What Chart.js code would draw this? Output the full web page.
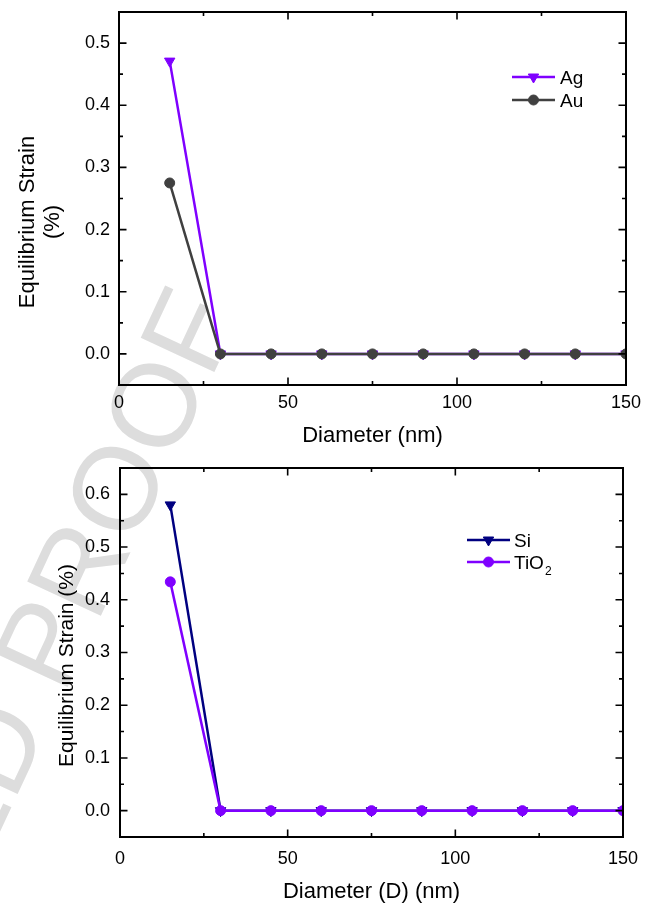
<!DOCTYPE html>
<html>
<head>
<meta charset="utf-8">
<script src="https://cdn.jsdelivr.net/npm/chart.js@4.4.1/dist/chart.umd.min.js"></script>
<style>
  html, body { margin: 0; padding: 0; background: #fff; }
  #page { position: relative; width: 654px; height: 905px; overflow: hidden; }
  #mark { position: absolute; left: 0; top: 0; }
  #topChart { position: absolute; left: 0; top: 0; }
  #bottomChart { position: absolute; left: 0; top: 452px; }
</style>
</head>
<body>
<div id="page">
  <canvas id="mark" width="654" height="905"></canvas>
  <canvas id="topChart" width="654" height="452"></canvas>
  <canvas id="bottomChart" width="654" height="453"></canvas>
</div>
<script>
// Data
const diameters = [15, 30, 45, 60, 75, 90, 105, 120, 135, 150]
const agStrain = [0.471, 0, 0, 0, 0, 0, 0, 0, 0, 0]
const auStrain = [0.275, 0, 0, 0, 0, 0, 0, 0, 0, 0]
const siStrain = [0.58, 0, 0, 0, 0, 0, 0, 0, 0, 0]
const tio2Strain = [0.434, 0, 0, 0, 0, 0, 0, 0, 0, 0]

// Axis ticks
const xTicks = [0, 50, 100, 150]
const xMinorTicks = [25, 75, 125]
const topYTicks = [0, 0.1, 0.2, 0.3, 0.4, 0.5]
const topYMinorTicks = [0.05, 0.15, 0.25, 0.35, 0.45]
const bottomYTicks = [0, 0.1, 0.2, 0.3, 0.4, 0.5, 0.6]
const bottomYMinorTicks = [0.05, 0.15, 0.25, 0.35, 0.45, 0.55]

const PURPLE = "#7f00ff"
const GRAY = "#404040"
const NAVY = "#000080"
const FONT = "Arial, 'Liberation Sans', Helvetica, sans-serif"

// Origin-style closed frame with inward ticks on all four sides
const frameTicks = {
  id: "frameTicks",
  afterDatasetsDraw(chart, args, opts) {
    const { ctx, chartArea: a } = chart
    const x = chart.scales.x
    const y = chart.scales.y
    ctx.save()
    ctx.strokeStyle = "#000"
    ctx.lineWidth = 2
    ctx.strokeRect(a.left, a.top, a.right - a.left, a.bottom - a.top)
    ctx.lineWidth = 1.6
    ctx.beginPath()
    const xt = (v, len) => {
      const px = x.getPixelForValue(v)
      ctx.moveTo(px, a.bottom); ctx.lineTo(px, a.bottom - len)
      ctx.moveTo(px, a.top); ctx.lineTo(px, a.top + len)
    }
    const yt = (v, len) => {
      const py = y.getPixelForValue(v)
      ctx.moveTo(a.left, py); ctx.lineTo(a.left + len, py)
      ctx.moveTo(a.right, py); ctx.lineTo(a.right - len, py)
    }
    opts.xMajor.forEach((v) => xt(v, 7.5))
    opts.xMinor.forEach((v) => xt(v, 4))
    opts.yMajor.forEach((v) => yt(v, 7.5))
    opts.yMinor.forEach((v) => yt(v, 4))
    ctx.stroke()
    ctx.restore()
  },
}

// Axis titles and the in-plot legend
const labels = {
  id: "labels",
  afterDraw(chart, args, opts) {
    const ctx = chart.ctx
    ctx.save()
    ctx.fillStyle = "#000"
    ctx.font = `${opts.xTitle.size}px ${FONT}`
    ctx.textBaseline = "alphabetic"
    ctx.textAlign = "center"
    ctx.fillText(opts.xTitle.text, opts.xTitle.x, opts.xTitle.y)

    ctx.save()
    ctx.font = `${opts.yTitle.size}px ${FONT}`
    ctx.translate(0, opts.yTitle.cy)
    ctx.rotate(-Math.PI / 2)
    opts.yTitle.lines.forEach((line, i) => {
      ctx.fillText(line, 0, opts.yTitle.x[i])
    })
    ctx.restore()

    const lg = opts.legend
    lg.rows.forEach((row) => {
      const ds = chart.data.datasets[row.dataset]
      ctx.strokeStyle = ds.borderColor
      ctx.fillStyle = ds.borderColor
      ctx.lineWidth = ds.borderWidth
      ctx.beginPath()
      ctx.moveTo(lg.x0, row.y)
      ctx.lineTo(lg.x1, row.y)
      ctx.stroke()
      const mx = (lg.x0 + lg.x1) / 2
      ctx.beginPath()
      if (ds.pointStyle === "triangle") {
        const r = ds.pointRadius
        ctx.moveTo(mx, row.y + r)
        ctx.lineTo(mx - r * 0.866, row.y - r / 2)
        ctx.lineTo(mx + r * 0.866, row.y - r / 2)
        ctx.closePath()
      } else {
        ctx.arc(mx, row.y, ds.pointRadius, 0, Math.PI * 2)
      }
      ctx.fill()
      ctx.lineWidth = 1
      ctx.stroke()
      ctx.fillStyle = "#000"
      ctx.textAlign = "left"
      ctx.font = `19px ${FONT}`
      ctx.fillText(row.text, lg.textX, row.y + 7)
      if (row.sub) {
        const w = ctx.measureText(row.text).width
        ctx.font = `12px ${FONT}`
        ctx.fillText(row.sub, lg.textX + w + 1, row.y + 13)
      }
    })
    ctx.restore()
  },
}

function series(label, values, color, style, order) {
  return {
    label,
    data: diameters.map((d, i) => ({ x: d, y: values[i] })),
    borderColor: color,
    backgroundColor: color,
    borderWidth: 2.5,
    pointStyle: style,
    pointRotation: style === "triangle" ? 180 : 0,
    pointRadius: style === "triangle" ? 6 : 5,
    pointBorderWidth: 1,
    tension: 0,
    order,
  }
}

function makeChart(id, datasets, cfg) {
  return new Chart(document.getElementById(id), {
    type: "line",
    data: { datasets },
    options: {
      responsive: false,
      animation: false,
      events: [],
      layout: { padding: cfg.padding },
      scales: {
        x: {
          type: "linear",
          min: 0,
          max: 150,
          grid: { display: false, drawTicks: false },
          border: { display: false },
          afterBuildTicks: (s) => { s.ticks = xTicks.map((v) => ({ value: v })) },
          afterFit: (s) => {
            s.height = cfg.xHeight
            s.paddingLeft = 0
            s.paddingRight = 0
          },
          ticks: {
            padding: cfg.xPad,
            color: "#000",
            font: { family: FONT, size: 18 },
            maxRotation: 0,
            callback: (v) => String(v),
          },
        },
        y: {
          type: "linear",
          min: cfg.yMin,
          max: cfg.yMax,
          grid: { display: false, drawTicks: false },
          border: { display: false },
          afterBuildTicks: (s) => { s.ticks = cfg.yTicks.map((v) => ({ value: v })) },
          afterFit: (s) => {
            s.width = cfg.yWidth
            s.paddingTop = 0
            s.paddingBottom = 0
          },
          ticks: {
            padding: cfg.yPad,
            color: "#000",
            font: { family: FONT, size: 18 },
            callback: (v) => Number(v).toFixed(1),
          },
        },
      },
      plugins: {
        legend: { display: false },
        tooltip: { enabled: false },
        frameTicks: {
          xMajor: xTicks,
          xMinor: xMinorTicks,
          yMajor: cfg.yTicks,
          yMinor: cfg.yMinor,
        },
        labels: cfg.labels,
      },
    },
    plugins: [frameTicks, labels],
  })
}

function drawWatermark() {
  const ctx = document.getElementById("mark").getContext("2d")
  ctx.save()
  ctx.translate(34, 682)
  ctx.rotate((-65 * Math.PI) / 180)
  ctx.font = `118px ${FONT}`
  ctx.fillStyle = "#dddddd"
  ctx.textBaseline = "middle"
  ctx.textAlign = "left"
  ctx.fillText("PROOF", 0, 0)
  ctx.textAlign = "right"
  ctx.fillText("UNCORRECTED ", 0, 0)
  ctx.restore()
}

drawWatermark()

makeChart(
  "topChart",
  [
    series("Ag", agStrain, PURPLE, "triangle", 2),
    series("Au", auStrain, GRAY, "circle", 1),
  ],
  {
    padding: { top: 12, right: 28, left: 0, bottom: 0 },
    xHeight: 67,
    yWidth: 119,
    xPad: 7,
    yPad: 9,
    yMin: -0.05,
    yMax: 0.55,
    yTicks: topYTicks,
    yMinor: topYMinorTicks,
    labels: {
      xTitle: { text: "Diameter (nm)", size: 22, x: 372.5, y: 442 },
      yTitle: { lines: ["Equilibrium Strain", "(%)"], size: 22, x: [33.5, 58.5], cy: 222 },
      legend: {
        x0: 512, x1: 555, textX: 560,
        rows: [
          { dataset: 0, text: "Ag", y: 77 },
          { dataset: 1, text: "Au", y: 100 },
        ],
      },
    },
  }
)

makeChart(
  "bottomChart",
  [
    series("Si", siStrain, NAVY, "triangle", 2),
    series("TiO2", tio2Strain, PURPLE, "circle", 1),
  ],
  {
    padding: { top: 16, right: 31, left: 0, bottom: 0 },
    xHeight: 68,
    yWidth: 120,
    xPad: 11,
    yPad: 10,
    yMin: -0.05,
    yMax: 0.65,
    yTicks: bottomYTicks,
    yMinor: bottomYMinorTicks,
    labels: {
      xTitle: { text: "Diameter (D) (nm)", size: 22, x: 371.5, y: 446 },
      yTitle: { lines: ["Equilibrium Strain (%)"], size: 21, x: [72.5], cy: 213.5 },
      legend: {
        x0: 467, x1: 510, textX: 514,
        rows: [
          { dataset: 0, text: "Si", y: 88 },
          { dataset: 1, text: "TiO", sub: "2", y: 110 },
        ],
      },
    },
  }
)
</script>
</body>
</html>
